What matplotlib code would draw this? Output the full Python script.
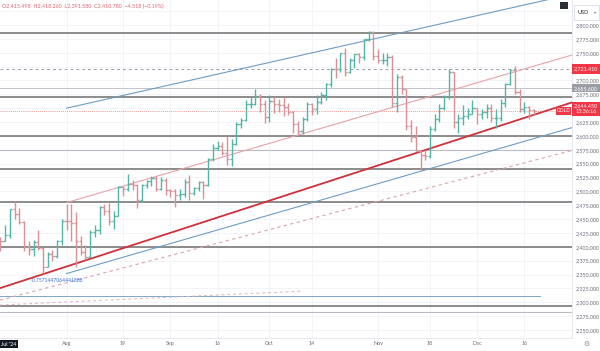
import matplotlib
matplotlib.use("Agg")
import matplotlib.pyplot as plt
import matplotlib.transforms as mtransforms
from matplotlib.collections import LineCollection
from matplotlib.patches import Rectangle
import numpy as np
import pandas as pd

plt.rcParams['font.family'] = ['Lato', 'DejaVu Sans']

# ---------------- data ----------------
dates = pd.bdate_range("2024-07-12", "2024-12-18")
opens = [2415.5, 2411, 2422, 2469, 2459, 2445, 2400, 2396, 2409, 2398, 2364, 2387, 2384, 2411,
         2447, 2446, 2443, 2410, 2390, 2382, 2427, 2431, 2472, 2465, 2447, 2456, 2507, 2504,
         2514, 2512, 2484, 2512, 2518, 2524, 2504, 2520,
         2503, 2500, 2493, 2495, 2516, 2497, 2506, 2516, 2512, 2558, 2578, 2582, 2569, 2559,
         2586, 2622, 2628, 2657, 2657, 2672, 2658,
         2634, 2663, 2657, 2656, 2653, 2644, 2622, 2608, 2630, 2657, 2649, 2662, 2674, 2693,
         2721, 2720, 2749, 2715, 2736, 2747, 2743, 2774, 2788,
         2744, 2736, 2736, 2743, 2659, 2706, 2685, 2618, 2598, 2573, 2565, 2563, 2612, 2631,
         2650, 2670, 2715, 2625, 2633, 2636, 2640,
         2650, 2640, 2643, 2650, 2632, 2633, 2660, 2694, 2718, 2680, 2648, 2652, 2646]
highs = [2418.3, 2440, 2469, 2483, 2470, 2446, 2411, 2412, 2431, 2399, 2391, 2394, 2412, 2451,
         2477, 2477, 2462, 2419, 2403, 2430, 2439, 2474, 2477, 2479, 2464, 2509, 2510, 2531,
         2520, 2514, 2513, 2521, 2528, 2527, 2525, 2524,
         2504, 2504, 2504, 2523, 2529, 2507, 2518, 2519, 2560, 2586, 2590, 2589, 2600, 2594,
         2625, 2633, 2664, 2670, 2685, 2675, 2665,
         2673, 2670, 2667, 2670, 2660, 2645, 2627, 2634, 2661, 2660, 2673, 2679, 2696, 2723,
         2740, 2749, 2758, 2741, 2748, 2749, 2775, 2790, 2790,
         2757, 2750, 2750, 2746, 2711, 2709, 2685, 2629, 2618, 2577, 2574, 2617, 2639, 2657,
         2674, 2721, 2716, 2640, 2656, 2651, 2665,
         2651, 2649, 2657, 2657, 2649, 2666, 2696, 2721, 2726, 2684, 2662, 2654, 2649]
lows = [2391.6, 2410, 2415, 2451, 2441, 2393, 2385, 2384, 2394, 2353, 2364, 2374, 2380, 2404,
        2431, 2410, 2364, 2385, 2376, 2382, 2417, 2423, 2458, 2440, 2432, 2456, 2492, 2500,
        2502, 2470, 2480, 2506, 2510, 2500, 2502, 2493,
        2490, 2472, 2484, 2490, 2485, 2493, 2500, 2486, 2510, 2555, 2574, 2565, 2547, 2545,
        2584, 2615, 2627, 2650, 2655, 2643, 2624,
        2625, 2642, 2644, 2636, 2637, 2605, 2604, 2603, 2626, 2637, 2640, 2658, 2664, 2689,
        2705, 2716, 2708, 2714, 2723, 2732, 2736, 2771, 2737,
        2732, 2729, 2726, 2652, 2643, 2675, 2610, 2589, 2572, 2536, 2556, 2561, 2609, 2625,
        2646, 2666, 2614, 2605, 2620, 2631, 2640,
        2622, 2630, 2633, 2625, 2614, 2627, 2652, 2692, 2675, 2643, 2642, 2631, 2637]
closes = [2410.8, 2422, 2469, 2459, 2445, 2400, 2396, 2409, 2398, 2364, 2387, 2384, 2411, 2447,
          2446, 2443, 2410, 2390, 2382, 2427, 2431, 2472, 2465, 2447, 2456, 2507, 2504, 2514,
          2512, 2484, 2512, 2518, 2524, 2504, 2520, 2503,
          2500, 2493, 2495, 2516, 2497, 2506, 2516, 2512, 2558, 2578, 2582, 2569, 2559, 2586,
          2622, 2628, 2657, 2657, 2672, 2658, 2634,
          2663, 2657, 2656, 2653, 2644, 2622, 2608, 2630, 2657, 2649, 2662, 2674, 2693, 2721,
          2720, 2749, 2715, 2736, 2747, 2743, 2774, 2788, 2744,
          2736, 2736, 2743, 2659, 2706, 2685, 2618, 2598, 2573, 2565, 2563, 2612, 2631, 2650,
          2670, 2715, 2625, 2633, 2636, 2640, 2650,
          2640, 2643, 2650, 2632, 2633, 2660, 2694, 2718, 2680, 2648, 2652, 2646, 2644.45]

# x-axis tick labels (date, label)
xtick_dates = ["2024-08-01", "2024-08-19", "2024-09-02", "2024-09-16", "2024-10-01",
               "2024-10-14", "2024-11-01", "2024-11-18", "2024-12-02", "2024-12-16"]
xtick_labels = ["Aug", "19", "Sep", "16", "Oct", "14", "Nov", "18", "Dec", "16"]
ytick_values = list(range(2250, 2826, 25))
hidden_ytick_labels = [2825, 2725, 2650]   # covered by boxes in the reference

# horizontal drawings
dark_levels = [2785, 2670, 2600, 2540, 2481, 2400, 2293]
light_levels = [2575, 2282]
blue_level = 2312
crosshair_level = 2685.6
dashed_level = 2721.41
last_price = 2644.45
countdown = "13:36:16"

# trend lines: (start date, start price, end date, end price)
red_line = ("2024-07-12", 2325.7, "2024-12-18", 2638.0)
pink_line = ("2024-08-01", 2479.7, "2024-12-18", 2725.7)
blue_upper = ("2024-08-01", 2650.0, "2024-12-18", 2840.0)
blue_lower = ("2024-08-01", 2351.7, "2024-12-18", 2595.1)
pink_dashed = ("2024-07-12", 2304.0, "2024-12-18", 2555.8)
pink_short_dashed = ("2024-07-12", 2295.0, "2024-10-10", 2320.0)
channel_note = "-0.7571447064441888"

header = "O2,415.498  H2,418.260  L2,391.580  C2,410.780  \u22124.518 (\u22120.19%)"

# ---------------- figure ----------------
W, H = 600, 351
fig = plt.figure(figsize=(W / 100, H / 100), dpi=100)
fig.patch.set_facecolor("white")
ax = fig.add_axes([0, 13 / H, 572 / W, 338 / H])
ax.set_facecolor("white")

n = len(dates)
idx = np.arange(n)
date_to_idx = {d.strftime("%Y-%m-%d"): i for i, d in enumerate(dates)}

XMAX = 121.1
ax.set_xlim(-0.1, XMAX)
ax.set_ylim(2235.5, 2845.1)

# grid
for yv in ytick_values:
    ax.axhline(yv, color="#f0f3fa", lw=0.6, zorder=0)
for d in xtick_dates:
    ax.axvline(date_to_idx[d], color="#f0f3fa", lw=0.6, zorder=0)

# horizontal drawings
for lv in dark_levels:
    ax.axhline(lv, color="#787878", lw=1.2, zorder=2)
for lv in light_levels:
    ax.axhline(lv, color="#b8bbc4", lw=0.8, zorder=2)
ax.plot([-0.1, 114.4], [blue_level, blue_level], color="#7ea6cf", lw=0.7, zorder=2)
ax.axhline(crosshair_level, color="#c2c5cc", lw=0.7, zorder=2)
ax.axhline(dashed_level, color="#9a9ea8", lw=0.7, ls=(0, (3, 3)), zorder=2)
ax.axhline(last_price, color="#e57373", lw=0.6, ls=(0, (1, 1.5)), zorder=2)


def trend(line, color, lw, ls="-", extend=True):
    d0, p0, d1, p1 = line
    x0, x1 = date_to_idx[d0], date_to_idx[d1]
    slope = (p1 - p0) / (x1 - x0)
    xe = XMAX if extend else x1
    xs = -0.1 if x0 == 0 else x0
    ax.plot([xs, xe], [p0 + slope * (xs - x0), p0 + slope * (xe - x0)],
            color=color, lw=lw, ls=ls, zorder=2.5)


trend(red_line, "#d0303a", 1.3)
trend(pink_line, "#e6a3a8", 0.8)
trend(blue_upper, "#6f9cc4", 0.8)
trend(blue_lower, "#6f9cc4", 0.8)
trend(pink_dashed, "#d9a3ad", 0.8, ls=(0, (3, 3)))
trend(pink_short_dashed, "#dcb5bd", 0.7, ls=(0, (3, 3)), extend=False)

ax.text(date_to_idx["2024-07-22"] + 0.5, 2340, channel_note, color="#3b6fd8",
        fontsize=3.6, va="center", ha="left", zorder=4)

# OHLC bars
o = np.array(opens); h = np.array(highs); l = np.array(lows); c = np.array(closes)
up_col, dn_col = "#52b5a8", "#da9097"
segs, cols = [], []
w = 0.45
for i in idx:
    col = up_col if c[i] >= o[i] else dn_col
    segs += [[(i, l[i]), (i, h[i])], [(i - w, o[i]), (i, o[i])], [(i, c[i]), (i + w, c[i])]]
    cols += [col] * 3
ax.add_collection(LineCollection(segs, colors=cols, linewidths=1.0, zorder=3))

# axes styling
for s in ["top", "left"]:
    ax.spines[s].set_visible(False)
ax.spines["right"].set_color("#e0e3eb")
ax.spines["bottom"].set_color("#e0e3eb")
ax.spines["right"].set_linewidth(0.6)
ax.spines["bottom"].set_linewidth(0.6)

ax.yaxis.tick_right()
ax.set_yticks(ytick_values)
ax.set_yticklabels(["" if v in hidden_ytick_labels else f"{v:,.3f}" for v in ytick_values])
ax.tick_params(axis="y", length=0, pad=2.5, labelsize=3.9, labelcolor="#6a6d78")
ax.set_xticks([date_to_idx[d] for d in xtick_dates])
ax.set_xticklabels(xtick_labels)
ax.tick_params(axis="x", length=0, pad=2.0, labelsize=3.9, labelcolor="#6a6d78")

# right-side price labels
bt = mtransforms.blended_transform_factory(ax.transAxes, ax.transData)
pu = 1 / 0.5545  # price units per pixel


def price_box(price, hpx, color, lines, txtcol="white"):
    ax.add_patch(Rectangle((1.0, price - hpx / 2 * pu), 28 / 572, hpx * pu, transform=bt,
                           facecolor=color, edgecolor="none", clip_on=False, zorder=5))
    ax.text(1.0 + 14 / 572, price, lines, transform=bt, ha="center", va="center",
            fontsize=3.9, color=txtcol, zorder=6, clip_on=False, linespacing=1.1)


price_box(dashed_level, 10, "#f23645", f"{dashed_level:,.3f}")
price_box(crosshair_level, 8, "#9a9da6", f"{crosshair_level:,.3f}")
price_box(last_price + 2.5 * pu, 14, "#f23645", f"{last_price:,.3f}\n{countdown}")
ax.add_patch(Rectangle((1.0 - 16 / 572, last_price - 3.5 * pu), 15 / 572, 8 * pu, transform=bt,
                       facecolor="#f23645", edgecolor="none", clip_on=False, zorder=5))
ax.text(1.0 - 8.5 / 572, last_price + 0.5 * pu, "GOLD", transform=bt, ha="center",
        va="center", fontsize=3.6, color="white", zorder=6, clip_on=False)

# header
fig.text(2 / W, 1 - 6 / H, header, fontsize=3.9, color="#e06470", ha="left", va="center")

# top right: camera and currency
fig.patches.append(Rectangle((560 / W, 1 - 9 / H), 8 / W, 7 / H, transform=fig.transFigure,
                             facecolor="#2a2e39", edgecolor="none"))
fig.patches.append(Rectangle((574 / W, 1 - 20 / H), 25 / W, 15 / H, transform=fig.transFigure,
                             facecolor="white", edgecolor="#d1d4dc", lw=0.5))
fig.text(577 / W, 1 - 12.5 / H, "USD", fontsize=4.0, color="#2a2e39", ha="left", va="center")
fig.text(595.5 / W, 1 - 12.5 / H, "\u25be", fontsize=3.0, color="#6a6d78", ha="center",
         va="center", family="DejaVu Sans")

# bottom-left date label and bottom-right gear
fig.text(16 / W, 7 / H, "Jul '24", fontsize=3.9, color="white", ha="right", va="center",
         bbox=dict(boxstyle="square,pad=0.35", facecolor="#131722", edgecolor="none"))
fig.text(586 / W, 7 / H, "\u2699", fontsize=5, color="#8a8d96", ha="center", va="center",
         family="DejaVu Sans")

fig.savefig("out.png", dpi=100, facecolor="white")
